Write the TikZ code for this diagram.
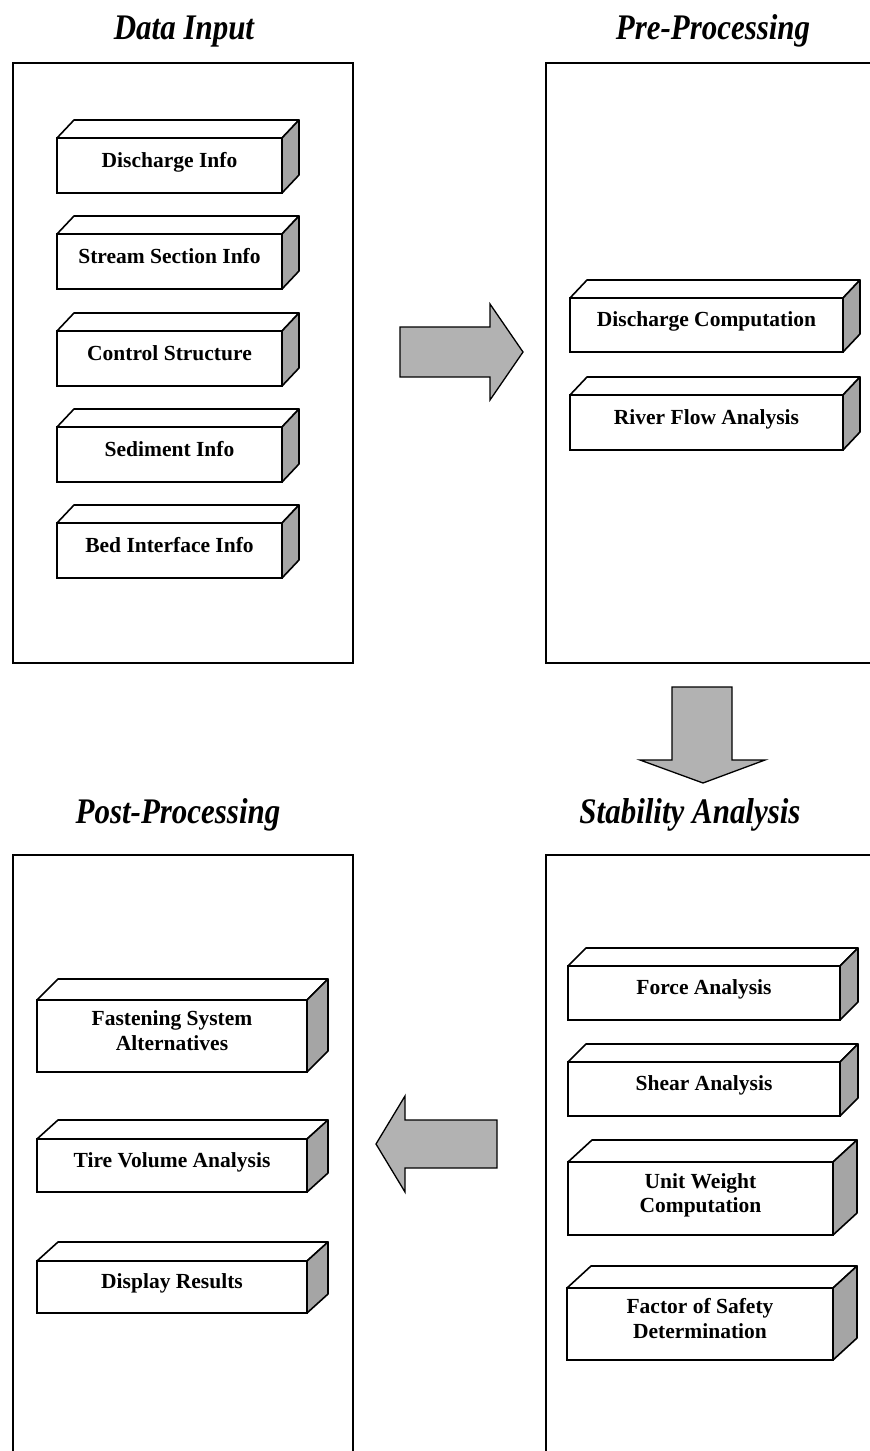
\documentclass[tikz,border=0pt]{standalone}
\usepackage{fontspec}
\setmainfont{Liberation Serif}
\newfontfamily\titlefont[FakeStretch=0.86]{Liberation Serif}
\definecolor{sidegray}{RGB}{165,165,165}
\definecolor{arrowgray}{RGB}{178,178,178}
\begin{document}
\begin{tikzpicture}[x=1pt,y=-1pt]
	\useasboundingbox (0,0) rectangle (870,1451);
	\tikzstyle{Panel} = [rectangle, draw, line width=1.7pt, inner sep=0pt, outer sep=0pt]
	\tikzstyle{Slab} = [rectangle, draw, line width=1.6pt, inner sep=0pt, outer sep=0pt, fill=white, align=center, text depth=11pt, font=\fontsize{21.5}{24.5}\selectfont\bfseries]
	\tikzstyle{Title} = [anchor=base, font=\titlefont\fontsize{36}{40}\selectfont\bfseries\itshape]
	\tikzstyle{Face} = [draw, line width=1.6pt, line join=round]
	\tikzstyle{Flow} = [draw, line width=1.3pt, fill=arrowgray]
	% panels
	\node (input) at (183,363) [Panel, minimum width=340, minimum height=600] {};
	\node (pre) at (710.5,363) [Panel, minimum width=329, minimum height=600] {};
	\node (post) at (183,1155) [Panel, minimum width=340, minimum height=600] {};
	\node (stab) at (710.5,1155) [Panel, minimum width=329, minimum height=600] {};
	\node at (184,39) [Title] {Data Input};
	\node at (713,39) [Title] {Pre-Processing};
	\node at (178,823) [Title] {Post-Processing};
	\node at (690,823) [Title] {Stability Analysis};
	% data input
	\node (di1) at (169.5,165.5) [Slab, minimum width=225, minimum height=55] {Discharge Info};
	\node (di2) at (169.5,261.5) [Slab, minimum width=225, minimum height=55] {Stream Section Info};
	\node (di3) at (169.5,358.5) [Slab, minimum width=225, minimum height=55] {Control Structure};
	\node (di4) at (169.5,454.5) [Slab, minimum width=225, minimum height=55] {Sediment Info};
	\node (di5) at (169.5,550.5) [Slab, minimum width=225, minimum height=55] {Bed Interface Info};
	% pre-processing
	\node (pp1) at (706.5,325) [Slab, minimum width=273, minimum height=54] {Discharge Computation};
	\node (pp2) at (706.5,422.5) [Slab, minimum width=273, minimum height=55] {River Flow Analysis};
	% stability analysis
	\node (sa1) at (704,993) [Slab, minimum width=272, minimum height=54] {Force Analysis};
	\node (sa2) at (704,1089) [Slab, minimum width=272, minimum height=54] {Shear Analysis};
	\node (sa3) at (700.5,1198.5) [Slab, minimum width=265, minimum height=73] {Unit Weight\\Computation};
	\node (sa4) at (700,1324) [Slab, minimum width=266, minimum height=72] {Factor of Safety\\Determination};
	% post-processing
	\node (po1) at (172,1036) [Slab, minimum width=270, minimum height=72] {Fastening System\\Alternatives};
	\node (po2) at (172,1165.5) [Slab, minimum width=270, minimum height=53] {Tire Volume Analysis};
	\node (po3) at (172,1287) [Slab, minimum width=270, minimum height=52] {Display Results};
	% top and side faces
	\foreach \n/\dx/\dy in {di1/17/18, di2/17/18, di3/17/18, di4/17/18, di5/17/18, pp1/17/18, pp2/17/18, sa1/18/18, sa2/18/18, sa3/24/22, sa4/24/22, po1/21/21, po2/21/19, po3/21/19} {
		\draw[Face, fill=white] (\n.north west) -- ++(\dx,-\dy) -- ([shift={(\dx,-\dy)}]\n.north east) -- (\n.north east) -- cycle;
		\draw[Face, fill=sidegray] (\n.north east) -- ++(\dx,-\dy) -- ([shift={(\dx,-\dy)}]\n.south east) -- (\n.south east) -- cycle;
	}
	% block arrows
	\draw[Flow] (400,327) -- (490,327) -- (490,304) -- (523,352) -- (490,400) -- (490,377) -- (400,377) -- cycle;
	\draw[Flow] (672,687) -- (732,687) -- (732,760) -- (765,760) -- (703,783) -- (640,760) -- (672,760) -- cycle;
	\draw[Flow] (497,1120) -- (405,1120) -- (405,1096) -- (376,1144) -- (405,1192) -- (405,1168) -- (497,1168) -- cycle;
\end{tikzpicture}
\end{document}
